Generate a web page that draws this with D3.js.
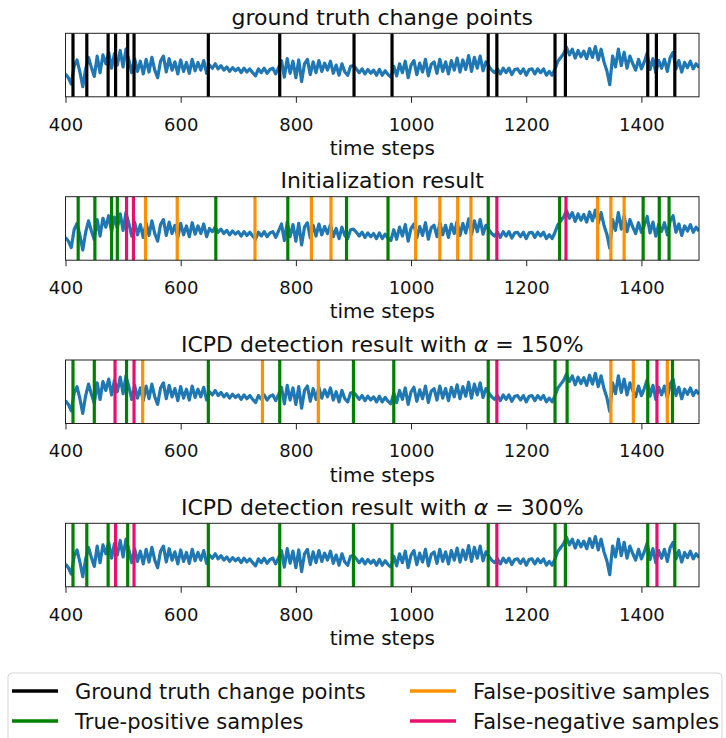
<!DOCTYPE html>
<html>
<head>
<meta charset="utf-8">
<script src="https://cdn.jsdelivr.net/npm/d3@7"></script>
<style>
  body { margin: 0; background: #fff; }
  svg { font-family: "DejaVu Sans", sans-serif; }
</style>
</head>
<body>
<script>
// time series, one value every 5 steps from 400 to 1500
var tStart = 400, tStep = 5;
var series = [
  // 400 - 520
  3.6, 3.0, 2.0, 4.8, 5.8, 3.9, 1.6, 4.4, 6.2, 4.6, 3.2, 6.4, 3.8, 6.6, 5.2, 7.0, 4.5, 6.8, 5.0, 7.3, 4.7, 7.5, 5.8, 3.8, 6.0,
  // 525 - 645
  4.0, 5.6, 3.6, 5.9, 3.9, 6.2, 4.2, 3.0, 5.6, 6.4, 3.9, 6.0, 4.2, 5.5, 3.6, 5.8, 4.0, 5.4, 3.7, 5.9, 4.1, 5.4, 4.2, 5.7, 3.7,
  // 650 - 770
  5.0, 4.5, 5.2, 4.4, 4.9, 4.2, 4.7, 4.0, 4.6, 4.1, 4.5, 3.8, 4.5, 3.9, 4.4, 3.8, 3.3, 4.4, 3.8, 4.5, 3.7, 4.3, 4.5, 3.6, 4.6,
  // 775 - 900
  5.7, 3.1, 6.0, 3.7, 5.6, 3.0, 5.8, 2.4, 5.2, 5.9, 3.5, 5.5, 3.8, 5.7, 4.0, 5.3, 4.2, 5.6, 3.7, 5.0, 3.4, 5.2, 3.9, 3.4, 4.8, 4.9,
  // 905 - 965
  4.4, 3.8, 4.4, 3.6, 4.3, 3.7, 4.2, 3.4, 4.3, 3.4, 4.1, 3.5, 3.1,
  // 970 - 1130
  4.8, 3.3, 5.2, 3.8, 5.6, 3.0, 5.0, 5.7, 3.5, 5.3, 3.9, 5.9, 3.3, 5.1, 5.5, 3.7, 5.9, 4.0, 5.5, 3.6, 5.7, 4.2, 6.1, 3.9, 5.8, 4.3, 6.5, 4.0, 6.2, 4.5, 6.4, 4.1, 5.5,
  // 1135 - 1245
  4.8, 4.2, 3.8, 4.4, 3.6, 4.5, 3.8, 4.5, 3.5, 4.3, 4.4, 3.7, 4.4, 3.4, 4.3, 4.4, 3.6, 4.4, 3.8, 4.4, 3.4, 4.0, 3.4,
  // 1250 - 1265
  4.4, 5.6, 6.2, 6.8,
  // 1270 - 1405
  7.8, 6.6, 7.5, 6.1, 7.3, 6.3, 7.2, 6.0, 7.6, 6.2, 7.9, 5.8, 7.5, 5.5, 4.1, 1.9, 6.4, 4.7, 7.5, 4.9, 7.0, 4.5, 6.4, 5.2, 4.2, 5.9, 4.4, 5.5,
  // 1410 - 1425
  6.9, 4.3, 6.0, 3.8,
  // 1430 - 1455
  5.7, 4.5, 5.9, 4.0, 6.2, 7.0,
  // 1460 - 1500
  4.4, 5.7, 3.9, 5.4, 4.6, 5.6, 4.4, 5.2, 4.6
];

// change points
var groundTruth = [413, 437, 474, 487, 508, 519, 648, 772, 901, 967, 1134, 1149, 1250, 1268, 1411, 1426, 1458];

var initTP = [422, 451, 480, 490, 661, 786, 888, 960, 1134, 1258, 1403, 1431, 1448];
var initFP = [539, 594, 729, 827, 861, 1008, 1050, 1081, 1104, 1324, 1347, 1370];
var initFN = [506, 518, 1149, 1269];

var a150TP = [413, 450, 506, 648, 772, 900, 970, 1134, 1250, 1271, 1411, 1454];
var a150FP = [534, 742, 839, 1347, 1386, 1445];
var a150FN = [486, 519, 1149, 1427];

var a300TP = [413, 437, 474, 508, 648, 772, 900, 967, 1134, 1250, 1268, 1411, 1458];
var a300FP = [];
var a300FN = [487, 519, 1149, 1427];

var xTicks = [400, 600, 800, 1000, 1200, 1400];
var legendLabels = ["Ground truth change points", "True-positive samples", "False-positive samples", "False-negative samples"];

var colors = {gt: "black", tp: "green", fp: "#ff9000", fn: "#e8106e", line: "#1f77b4"};

// layout
var margin = {left: 65.5, right: 27},
    width = 726 - margin.left - margin.right,
    height = 63.5;
var tops = [33.3, 196.7, 360, 523.3];

var x = d3.scaleLinear().domain([400, 1500]).range([0, width]);
var y = d3.scaleLinear().domain([0, 10]).range([height, 0]);

var valueline = d3.line()
    .x(function(d, i) { return x(tStart + i * tStep); })
    .y(function(d) { return y(d); });

var svg = d3.select("body").append("svg")
    .attr("width", 726)
    .attr("height", 738);

var panels = [
  {title: ["ground truth change points"], marks: [[groundTruth, colors.gt]]},
  {title: ["Initialization result"], marks: [[initTP, colors.tp], [initFP, colors.fp], [initFN, colors.fn]]},
  {title: ["ICPD detection result with ", "α", " = 150%"], marks: [[a150TP, colors.tp], [a150FP, colors.fp], [a150FN, colors.fn]]},
  {title: ["ICPD detection result with ", "α", " = 300%"], marks: [[a300TP, colors.tp], [a300FP, colors.fp], [a300FN, colors.fn]]}
];

panels.forEach(function(p, k) {
  var g = svg.append("g")
      .attr("transform", "translate(" + margin.left + "," + tops[k] + ")");

  g.append("clipPath").attr("id", "clip" + k)
    .append("rect").attr("width", width).attr("height", height);

  // the series
  g.append("path")
      .datum(series)
      .attr("clip-path", "url(#clip" + k + ")")
      .attr("fill", "none")
      .attr("stroke", colors.line)
      .attr("stroke-width", 3.2)
      .attr("stroke-linejoin", "round")
      .attr("d", valueline);

  // vertical change point lines
  p.marks.forEach(function(m) {
    g.selectAll(null)
      .data(m[0])
      .enter().append("line")
        .attr("x1", function(d) { return x(d); })
        .attr("x2", function(d) { return x(d); })
        .attr("y1", 0)
        .attr("y2", height)
        .attr("stroke", m[1])
        .attr("stroke-width", 3.2);
  });

  // frame
  g.append("rect")
      .attr("width", width)
      .attr("height", height)
      .attr("fill", "none")
      .attr("stroke", "#222")
      .attr("stroke-width", 1);

  // x axis
  var ax = g.append("g")
      .attr("transform", "translate(0," + height + ")")
      .call(d3.axisBottom(x).tickValues(xTicks).tickSize(6).tickPadding(15).tickFormat(d3.format("d")));
  ax.select(".domain").remove();
  ax.selectAll(".tick line").attr("stroke", "#222").attr("stroke-width", 1);
  ax.selectAll(".tick text")
      .attr("fill", "#111")
      .style("font-size", "18px")
      .style("font-family", "DejaVu Sans");

  g.append("text")
      .attr("x", width / 2)
      .attr("y", height + 58)
      .attr("text-anchor", "middle")
      .style("font-size", "20px")
      .attr("fill", "#111")
      .text("time steps");

  // title
  var t = g.append("text")
      .attr("x", width / 2)
      .attr("y", -8.5)
      .attr("text-anchor", "middle")
      .style("font-size", "22px")
      .attr("fill", "#111");
  p.title.forEach(function(s, i) {
    t.append("tspan")
      .style("font-style", i === 1 ? "italic" : "normal")
      .text(s);
  });
});

// legend
var legend = svg.append("g");
legend.append("rect")
    .attr("x", 8).attr("y", 673)
    .attr("width", 714).attr("height", 80)
    .attr("rx", 4)
    .attr("fill", "white")
    .attr("stroke", "#d6d6d6");

var legendItems = [
  {label: legendLabels[0], color: colors.gt, col: 0, row: 0},
  {label: legendLabels[1], color: colors.tp, col: 0, row: 1},
  {label: legendLabels[2], color: colors.fp, col: 1, row: 0},
  {label: legendLabels[3], color: colors.fn, col: 1, row: 1}
];
var colX = [12, 410], rowY = [691, 721];

legendItems.forEach(function(d) {
  legend.append("line")
      .attr("x1", colX[d.col]).attr("x2", colX[d.col] + 46)
      .attr("y1", rowY[d.row]).attr("y2", rowY[d.row])
      .attr("stroke", d.color)
      .attr("stroke-width", 3.5);
  legend.append("text")
      .attr("x", colX[d.col] + 63)
      .attr("y", rowY[d.row])
      .attr("dy", "0.36em")
      .style("font-size", "21px")
      .attr("fill", "#111")
      .text(d.label);
});
</script>
</body>
</html>
